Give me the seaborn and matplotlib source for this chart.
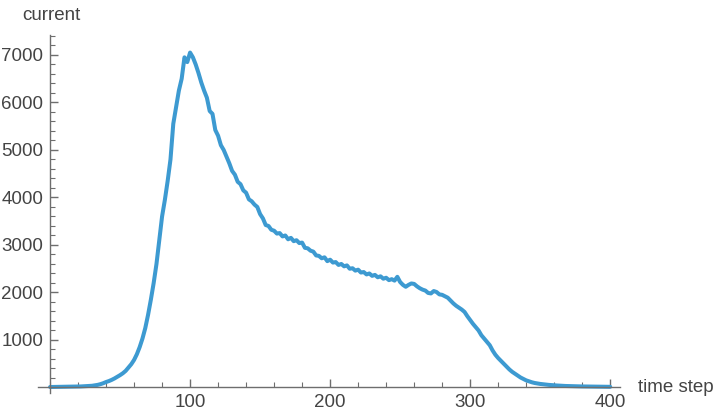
import numpy as np
import pandas as pd
import seaborn as sns
import matplotlib.pyplot as plt
from matplotlib.ticker import MultipleLocator

# values, one every 2 time steps (t = 0, 2, ..., 400)
current = [10, 11, 12, 13, 14, 14, 15, 16, 18, 19,
           20, 22, 25, 27, 30, 36, 45, 55, 70, 90,
           115, 135, 160, 190, 225, 260, 300, 350, 420, 490,
           580, 700, 850, 1030, 1250, 1530, 1850, 2200, 2600, 3100,
           3600, 3950, 4350, 4800, 5550, 5900, 6250, 6500, 6950, 6850,
           7050, 6950, 6800, 6620, 6420, 6250, 6100, 5820, 5760, 5420,
           5300, 5100, 5000, 4860, 4720, 4560, 4480, 4330, 4280, 4150,
           4100, 3960, 3920, 3850, 3800, 3650, 3560, 3420, 3400, 3320,
           3300, 3240, 3250, 3180, 3200, 3120, 3150, 3080, 3100, 3040,
           3050, 2940, 2930, 2880, 2860, 2780, 2770, 2720, 2740, 2660,
           2690, 2630, 2640, 2580, 2600, 2550, 2570, 2500, 2510, 2460,
           2480, 2420, 2430, 2380, 2400, 2350, 2370, 2320, 2340, 2290,
           2310, 2260, 2280, 2250, 2330, 2220, 2160, 2120, 2160, 2190,
           2180, 2130, 2090, 2060, 2040, 1990, 1980, 2030, 2010, 1960,
           1950, 1920, 1890, 1830, 1770, 1720, 1680, 1640, 1590, 1500,
           1420, 1340, 1270, 1200, 1100, 1030, 960, 890, 780, 690,
           620, 560, 500, 440, 380, 330, 290, 250, 210, 180,
           150, 130, 110, 95, 85, 75, 68, 60, 55, 50,
           45, 42, 38, 35, 32, 30, 28, 26, 25, 24,
           22, 21, 20, 19, 18, 17, 16, 16, 15, 15, 14]
time_step = list(range(0, 2 * len(current), 2))

df = pd.DataFrame({'time step': time_step, 'current': current})

sns.set_style('white')
plt.rcParams['font.family'] = ['Liberation Sans', 'DejaVu Sans']

fig = plt.figure(figsize=(7.2, 4.18), dpi=100)
W, H = 720, 418
left, right, top, bottom = 38, 620, 35, 393
ax = fig.add_axes([left / W, 1 - bottom / H, (right - left) / W, (bottom - top) / H])

sns.lineplot(data=df, x='time step', y='current', ax=ax, color='#3d9ad1', linewidth=2.9)

ax.set_xlim(-8.6, 407)
ax.set_ylim(-116, 7420)
ax.set_xlabel('')
ax.set_ylabel('')

for s in ['top', 'right']:
    ax.spines[s].set_visible(False)
ax.spines['left'].set_position(('data', 0))
ax.spines['bottom'].set_position(('data', 0))
for s in ['left', 'bottom']:
    ax.spines[s].set_color('#6e6e6e')
    ax.spines[s].set_linewidth(1.0)

ax.set_xticks([100, 200, 300, 400])
ax.set_yticks([1000, 2000, 3000, 4000, 5000, 6000, 7000])
ax.xaxis.set_minor_locator(MultipleLocator(20))
ax.yaxis.set_minor_locator(MultipleLocator(200))
ax.tick_params(which='both', direction='in', colors='#6e6e6e', labelcolor='#444444',
               labelsize=13.5, bottom=True, left=True, pad=5)
ax.tick_params(which='major', length=6, width=1)
ax.tick_params(which='minor', length=3.5, width=0.8)

fig.text(51 / W, 1 - 15 / H, 'current', ha='center', va='center', fontsize=13.5, color='#444444')
fig.text(676 / W, 1 - 387 / H, 'time step', ha='center', va='center', fontsize=13.5, color='#444444')

fig.savefig('out.png', dpi=100)
